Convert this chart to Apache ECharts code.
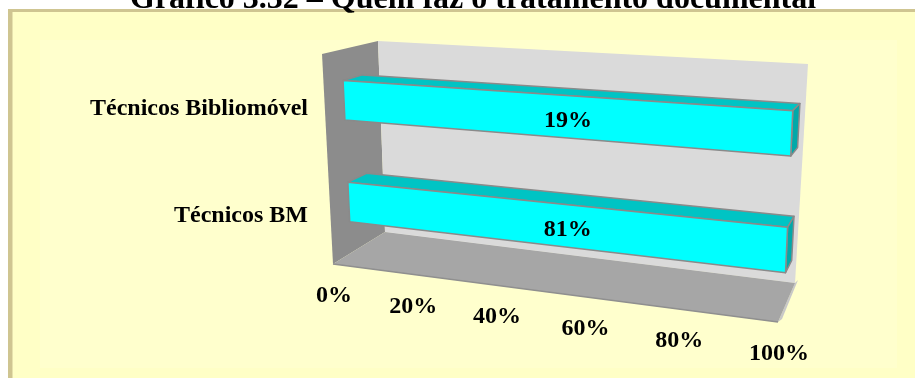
<!DOCTYPE html>
<html>
<head>
<meta charset="utf-8">
<script src="https://cdn.jsdelivr.net/npm/echarts@6/dist/echarts.min.js"></script>
<style>
  html, body { margin: 0; padding: 0; background: #ffffff; overflow: hidden; }
  #chart { width: 915px; height: 378px; }
</style>
</head>
<body>
<div id="chart"></div>
<script>
// ---- data ----
const titleText = 'Gráfico 3.32 – Quem faz o tratamento documental';
const categories = ['Técnicos BM', 'Técnicos Bibliomóvel'];
const seriesValues = [81, 19];               // percentages shown on the bars
const tickValues = [0, 20, 40, 60, 80, 100];
const tickLabels = ['0%', '20%', '40%', '60%', '80%', '100%'];

// 100% stacked layout: each bar's length is its share of its category total
const seriesList = [seriesValues];
const categoryTotals = categories.map((c, i) => seriesList.reduce((s, ser) => s + ser[i], 0));
const barShares = seriesValues.map((v, i) => v / categoryTotals[i] * 100);

// ---- 3D box projection (value axis u, height h, depth d; all 0..1) ----
const BOX = {
  front: { p00: [333, 264], p01: [322, 54], p10: [778, 322], p11: [787, 81] },
  back:  { p00: [385, 232], p01: [378, 41], p10: [795, 283], p11: [808, 64] }
};
const PERSP = 0.866;          // foreshortening along the value axis
const BAR_FRONT = 0.35, BAR_BACK = 0.70, BAR_RATIO = 0.39;
const FONT = '"Liberation Serif", "Times New Roman", serif';
const LABEL_SIZE = 24;

function warp(u) { return PERSP * u / (1 + (PERSP - 1) * u); }
function bilinear(q, t, h) {
  const w00 = (1 - t) * (1 - h), w01 = (1 - t) * h, w10 = t * (1 - h), w11 = t * h;
  return [
    w00 * q.p00[0] + w01 * q.p01[0] + w10 * q.p10[0] + w11 * q.p11[0],
    w00 * q.p00[1] + w01 * q.p01[1] + w10 * q.p10[1] + w11 * q.p11[1]
  ];
}
function project(u, h, d) {
  const t = warp(u);
  const f = bilinear(BOX.front, t, h), b = bilinear(BOX.back, t, h);
  return [f[0] + (b[0] - f[0]) * d, f[1] + (b[1] - f[1]) * d];
}
function poly(points, fill, stroke, lw) {
  return {
    type: 'polygon',
    shape: { points: points },
    style: { fill: fill, stroke: stroke || null, lineWidth: lw || 0, lineJoin: 'round' }
  };
}

// walls and floor of the 3D plot area
function renderWalls() {
  const sideWall = [project(0, 0, 0), project(0, 1, 0), project(0, 1, 1), project(0, 0, 1)];
  const backWall = [project(0, 0, 1), project(0, 1, 1), project(1, 1, 1), project(1, 0, 1)];
  const floor = [project(0, 0, 0), project(1, 0, 0), project(1, 0, 1), project(0, 0, 1)];
  const fl = project(0, 0, 0), fr = project(1, 0, 0), br = project(1, 0, 1), bl = project(0, 0, 1);
  return {
    type: 'group',
    children: [
      poly(sideWall, '#8c8c8c'),
      poly(backWall, '#dadada'),
      { type: 'line', shape: { x1: bl[0] + 2, y1: bl[1] + 2, x2: br[0], y2: br[1] + 2 },
        style: { stroke: '#e8e8e8', lineWidth: 4 } },
      poly([br, [br[0] + 3, br[1] - 3], [fr[0] + 4, fr[1] - 3], fr], '#c8c8c8'),
      poly(floor, '#a6a6a6'),
      { type: 'line', shape: { x1: fl[0], y1: fl[1], x2: fr[0], y2: fr[1] },
        style: { stroke: '#8f8f8f', lineWidth: 1.5 } }
    ]
  };
}

function renderBar(params, api) {
  const cs = params.coordSys;
  const share = api.value(0), cat = api.value(1);
  const p0 = api.coord([0, cat]), p1 = api.coord([share, cat]);
  const band = api.size([0, 1])[1];
  const u0 = (p0[0] - cs.x) / cs.width, u1 = (p1[0] - cs.x) / cs.width;
  const hc = (cs.y + cs.height - p0[1]) / cs.height;
  const hh = band * BAR_RATIO / 2 / cs.height;
  const h0 = hc - hh, h1 = hc + hh;
  const F = BAR_FRONT, B = BAR_BACK;
  const edge = '#8a8a8a';
  const front = [project(u0, h0, F), project(u1, h0, F), project(u1, h1, F), project(u0, h1, F)];
  const top = [project(u0, h1, F), project(u1, h1, F), project(u1, h1, B), project(u0, h1, B)];
  const end = [project(u1, h0, F), project(u1, h0, B), project(u1, h1, B), project(u1, h1, F)];
  const lc = project(u0, hc, F), rc = project(u1, hc, F);
  return {
    type: 'group',
    children: [
      poly(top, '#00c4c4', edge, 1.5),
      poly(end, '#00a9a9', edge, 1.5),
      poly(front, '#00ffff', edge, 1.5),
      {
        type: 'text',
        style: {
          text: seriesValues[params.dataIndex] + '%',
          x: (lc[0] + rc[0]) / 2, y: (lc[1] + rc[1]) / 2 + 4,
          align: 'center', verticalAlign: 'middle',
          font: 'bold ' + LABEL_SIZE + 'px ' + FONT, fill: '#000000'
        }
      }
    ]
  };
}

function renderTick(params, api) {
  const cs = params.coordSys;
  const p = api.coord([api.value(0), 0]);
  const u = (p[0] - cs.x) / cs.width;
  const q = project(u, 0, 0);
  return {
    type: 'text',
    style: {
      text: tickLabels[params.dataIndex],
      x: q[0] + 1, y: q[1] + 32,
      align: 'center', verticalAlign: 'middle',
      font: 'bold ' + LABEL_SIZE + 'px ' + FONT, fill: '#000000'
    }
  };
}

const chart = echarts.init(document.getElementById('chart'), null, { renderer: 'canvas' });
chart.setOption({
  animation: false,
  backgroundColor: '#ffffff',
  title: {
    text: titleText,
    left: 125, top: -21,
    textStyle: { fontFamily: FONT, fontSize: 32, fontWeight: 'bold', color: '#000000' }
  },
  graphic: [
    // chart area: pale yellow panel, tan frame on its top and left edges
    { type: 'rect', z: -10, shape: { x: 10, y: 10, width: 920, height: 380 },
      style: { fill: '#ffffc6' } },
    { type: 'rect', z: -9, shape: { x: 40, y: 40, width: 857, height: 328 },
      style: { fill: '#ffffcd' } },
    { type: 'rect', z: -8, shape: { x: 8, y: 9, width: 920, height: 3 },
      style: { fill: '#cfc591' } },
    { type: 'rect', z: -8, shape: { x: 8, y: 9, width: 4.5, height: 380 },
      style: { fill: '#cfc591' } }
  ],
  grid: { left: 320, top: 56, width: 460, height: 213 },
  xAxis: { type: 'value', min: 0, max: 100, interval: 20, show: false },
  yAxis: {
    type: 'category',
    data: categories,
    axisLine: { show: false }, axisTick: { show: false }, splitLine: { show: false },
    axisLabel: { margin: 12, fontFamily: FONT, fontSize: LABEL_SIZE, fontWeight: 'bold', color: '#000000' }
  },
  series: [
    { type: 'custom', name: 'box', z: 1, silent: true, clip: false,
      data: [[0, 0]], renderItem: renderWalls },
    { type: 'custom', name: 'bars', z: 3, clip: false,
      encode: { x: 0, y: 1 },
      data: barShares.map((s, i) => [s, i]), renderItem: renderBar },
    { type: 'custom', name: 'ticks', z: 3, silent: true, clip: false,
      encode: { x: 0, y: 1 },
      data: tickValues.map(v => [v, 0]), renderItem: renderTick }
  ]
});
</script>
</body>
</html>
